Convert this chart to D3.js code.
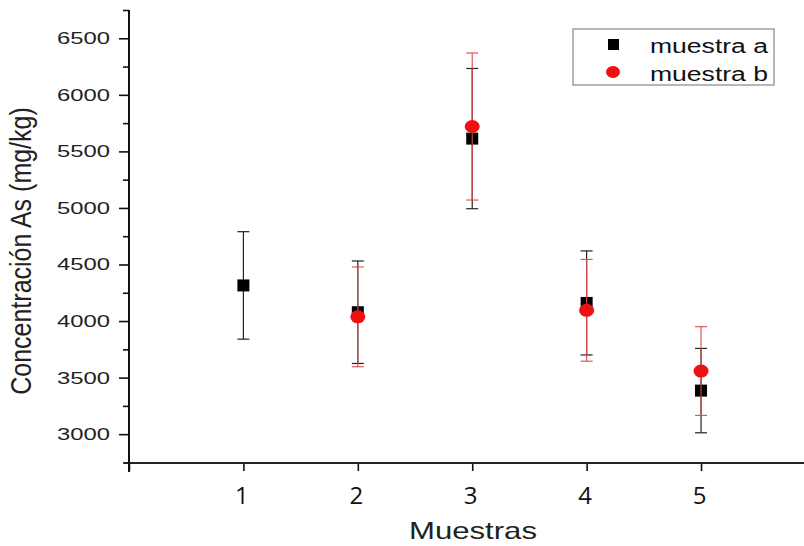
<!DOCTYPE html>
<html>
<head>
<meta charset="utf-8">
<script src="https://cdn.jsdelivr.net/npm/d3@7"></script>
<style>
  body { margin: 0; background: #fff; }
  svg { display: block; }
</style>
</head>
<body>
<script>
// data
var samplesA = [1, 2, 3, 4, 5];
var meanA = [4315, 4078, 5613, 4160, 3385];
var errA = [475, 453, 620, 460, 373];

var samplesB = [2, 3, 4, 5];
var meanB = [4037, 5720, 4095, 3558];
var errB = [441, 650, 450, 392];

var yTicks = [3000, 3500, 4000, 4500, 5000, 5500, 6000, 6500];
var yMinor = [2750, 3250, 3750, 4250, 4750, 5250, 5750, 6250, 6750];
var xTicks = [0, 1, 2, 3, 4, 5];
var seriesNames = ["muestra a", "muestra b"];

var width = 804, height = 546;

var svg = d3.select("body").append("svg")
    .attr("width", width)
    .attr("height", height);

// scales
var x = d3.scaleLinear().domain([0, 5.9]).range([129, 804]);
var y = d3.scaleLinear().domain([2745, 6750]).range([463, 10]);

// minor y ticks
svg.append("g")
    .attr("transform", "translate(129,0)")
    .call(d3.axisLeft(y).tickValues(yMinor).tickSize(6).tickSizeOuter(0).tickFormat(""))
    .call(function (g) { g.select(".domain").remove(); })
    .selectAll("line").attr("stroke", "#111").attr("stroke-width", 1.6);

// major y ticks + labels
var yAxis = svg.append("g")
    .attr("transform", "translate(129,0)")
    .call(d3.axisLeft(y).tickValues(yTicks).tickSize(10).tickSizeOuter(0).tickPadding(9)
        .tickFormat(d3.format("d")));
yAxis.select(".domain").remove();
yAxis.selectAll("line").attr("stroke", "#111").attr("stroke-width", 1.6);
yAxis.selectAll("text")
    .attr("font-family", "Liberation Sans, Arial, sans-serif")
    .attr("font-size", 17)
    .attr("fill", "#222")
    .attr("textLength", 53)
    .attr("lengthAdjust", "spacingAndGlyphs");

// x axis
var xAxis = svg.append("g")
    .attr("transform", "translate(0,463)")
    .call(d3.axisBottom(x).tickValues(xTicks).tickSize(8).tickSizeOuter(0).tickPadding(16)
        .tickFormat(function (d) { return d === 0 ? "" : d; }));
xAxis.select(".domain").remove();
xAxis.selectAll("line").attr("stroke", "#111").attr("stroke-width", 1.6);
xAxis.selectAll("text")
    .attr("font-family", "Open Sans, Noto Sans, sans-serif")
    .attr("font-size", 24)
    .attr("fill", "#111")
    .attr("dx", -2);

// axis lines
svg.append("line")
    .attr("x1", 124).attr("x2", 804)
    .attr("y1", 463).attr("y2", 463)
    .attr("stroke", "#222").attr("stroke-width", 2);
svg.append("line")
    .attr("x1", 129).attr("x2", 129)
    .attr("y1", y(6750)).attr("y2", 472)
    .attr("stroke", "#111").attr("stroke-width", 2);

// axis titles
svg.append("text")
    .attr("transform", "translate(31,251) scale(1.2,1) rotate(-90)")
    .attr("text-anchor", "middle")
    .attr("font-family", "Liberation Sans, Arial, sans-serif")
    .attr("font-size", 25)
    .attr("fill", "#222")
    .text("Concentración As (mg/kg)");

svg.append("text")
    .attr("x", 409).attr("y", 539)
    .attr("font-family", "Liberation Sans, Arial, sans-serif")
    .attr("font-size", 24)
    .attr("fill", "#222")
    .attr("textLength", 128)
    .attr("lengthAdjust", "spacingAndGlyphs")
    .text("Muestras");

// error bars
function drawErrors(xs, means, errs, color, w) {
    var g = svg.append("g").attr("stroke", color).attr("stroke-width", w).attr("fill", "none");
    xs.forEach(function (s, i) {
        var cx = x(s), top = y(means[i] + errs[i]), bot = y(means[i] - errs[i]);
        g.append("line").attr("x1", cx).attr("x2", cx).attr("y1", top).attr("y2", bot);
        g.append("line").attr("x1", cx - 6).attr("x2", cx + 6).attr("y1", top).attr("y2", top);
        g.append("line").attr("x1", cx - 6).attr("x2", cx + 6).attr("y1", bot).attr("y2", bot);
    });
}

drawErrors(samplesA, meanA, errA, "#222", 1.2);

// series a: squares
svg.selectAll(".ptA")
    .data(samplesA)
    .enter()
    .append("rect")
    .attr("class", "ptA")
    .attr("x", function (d) { return x(d) - 6; })
    .attr("y", function (d, i) { return y(meanA[i]) - 6; })
    .attr("width", 12).attr("height", 12)
    .attr("fill", "#000");

drawErrors(samplesB, meanB, errB, "#d94a4a", 1.1);

// series b: red circles
svg.selectAll(".ptB")
    .data(samplesB)
    .enter()
    .append("ellipse")
    .attr("class", "ptB")
    .attr("cx", function (d) { return x(d); })
    .attr("cy", function (d, i) { return y(meanB[i]); })
    .attr("rx", 7.5).attr("ry", 6.5)
    .attr("fill", "#ee1111");

// legend
var legend = svg.append("g");
legend.append("rect")
    .attr("x", 573).attr("y", 29)
    .attr("width", 201).attr("height", 56)
    .attr("fill", "#fff")
    .attr("stroke", "#888").attr("stroke-width", 1.2);
legend.append("rect")
    .attr("x", 608).attr("y", 39)
    .attr("width", 11).attr("height", 11)
    .attr("fill", "#000");
legend.append("ellipse")
    .attr("cx", 613).attr("cy", 72)
    .attr("rx", 7).attr("ry", 6)
    .attr("fill", "#ee1111");
legend.selectAll(".legText")
    .data(seriesNames)
    .enter()
    .append("text")
    .attr("class", "legText")
    .attr("x", 650)
    .attr("y", function (d, i) { return 53 + i * 28; })
    .attr("font-family", "Liberation Sans, Arial, sans-serif")
    .attr("font-size", 20)
    .attr("fill", "#111")
    .attr("textLength", 118)
    .attr("lengthAdjust", "spacingAndGlyphs")
    .text(function (d) { return d; });
</script>
</body>
</html>
